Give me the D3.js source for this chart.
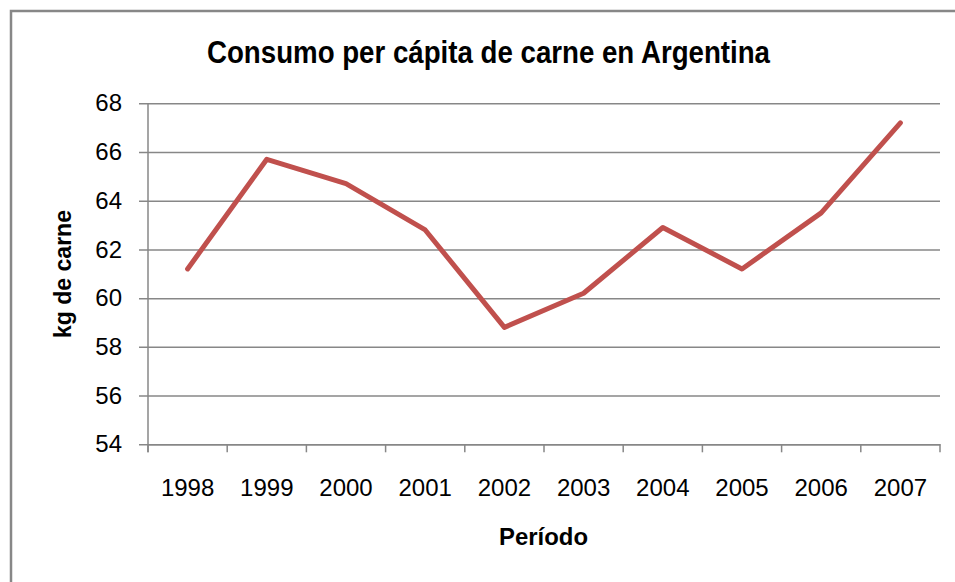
<!DOCTYPE html>
<html>
<head>
<meta charset="utf-8">
<script src="https://cdn.jsdelivr.net/npm/d3@7"></script>
<style>
  html, body { margin: 0; padding: 0; background: #fff; }
  svg { display: block; }
</style>
</head>
<body>
<script>
const title = "Consumo per cápita de carne en Argentina";
const yTitle = "kg de carne";
const xTitle = "Período";
const years = ["1998","1999","2000","2001","2002","2003","2004","2005","2006","2007"];
const consumo = [61.2, 65.7, 64.7, 62.8, 58.8, 60.2, 62.9, 61.2, 63.5, 67.2];
const yTicks = [54, 56, 58, 60, 62, 64, 66, 68];

const W = 955, H = 582;
const plot = { left: 148, right: 940, top: 103.3, bottom: 444.3 };

const svg = d3.select("body").append("svg").attr("width", W).attr("height", H);

// outer frame
svg.append("rect").attr("x", 11).attr("y", 11).attr("width", 980).attr("height", 620)
  .attr("fill", "#fff").attr("stroke", "#878787").attr("stroke-width", 2.5);

const x = d3.scaleBand().domain(years).range([plot.left, plot.right]).padding(0);
const y = d3.scaleLinear().domain([54, 68]).range([plot.bottom, plot.top]);

const gridColor = "#878787";
const labelFont = "'Liberation Sans', Arial, sans-serif";
const boldFont = "'Liberation Sans', Arial, sans-serif";

// gridlines + y axis
const yAxis = d3.axisLeft(y).tickValues(yTicks).tickSize(-(plot.right - plot.left)).tickSizeOuter(0).tickPadding(26)
  .tickFormat(d3.format("d"));
const gy = svg.append("g").attr("transform", `translate(${plot.left},0)`).call(yAxis);
gy.select(".domain").remove();
gy.selectAll(".tick line").attr("stroke", gridColor).attr("stroke-width", 1.5).attr("x1", -9);
gy.selectAll(".tick text").attr("font-family", labelFont).attr("font-size", 24).attr("fill", "#000");

// y axis line
svg.append("line").attr("x1", plot.left).attr("x2", plot.left).attr("y1", plot.top).attr("y2", plot.bottom + 8)
  .attr("stroke", gridColor).attr("stroke-width", 1.5);

// x axis
const xAxis = d3.axisBottom(x).tickSize(0).tickPadding(35);
const gx = svg.append("g").attr("transform", `translate(0,${plot.bottom})`).call(xAxis);
gx.select(".domain").attr("stroke", gridColor).attr("stroke-width", 1.5);
gx.selectAll(".tick text").attr("font-family", labelFont).attr("font-size", 24).attr("fill", "#000");
// band-boundary ticks
const bounds = years.map(d => x(d)).concat([x(years[years.length - 1]) + x.bandwidth()]);
svg.append("g").selectAll("line").data(bounds).join("line")
  .attr("x1", d => d).attr("x2", d => d).attr("y1", plot.bottom).attr("y2", plot.bottom + 8)
  .attr("stroke", gridColor).attr("stroke-width", 1.5);

// line
const line = d3.line().x((d, i) => x(years[i]) + x.bandwidth() / 2).y(d => y(d));
svg.append("path").datum(consumo).attr("d", line).attr("fill", "none")
  .attr("stroke", "#C0504D").attr("stroke-width", 5).attr("stroke-linejoin", "round").attr("stroke-linecap", "round");

// title (condensed bold look)
svg.append("text").attr("x", 488.5).attr("y", 63).attr("text-anchor", "middle")
  .attr("font-family", boldFont).attr("font-weight", "bold").attr("font-size", 31).attr("fill", "#000")
  .attr("textLength", 563).attr("lengthAdjust", "spacingAndGlyphs")
  .text(title);

// axis titles
svg.append("text").attr("x", 543.5).attr("y", 545).attr("text-anchor", "middle")
  .attr("font-family", boldFont).attr("font-weight", "bold").attr("font-size", 24).attr("fill", "#000")
  .attr("textLength", 89).attr("lengthAdjust", "spacingAndGlyphs")
  .text(xTitle);
svg.append("text").attr("transform", `translate(71,274) rotate(-90)`).attr("text-anchor", "middle")
  .attr("font-family", boldFont).attr("font-weight", "bold").attr("font-size", 24).attr("fill", "#000")
  .attr("textLength", 128).attr("lengthAdjust", "spacingAndGlyphs")
  .text(yTitle);
</script>
</body>
</html>
